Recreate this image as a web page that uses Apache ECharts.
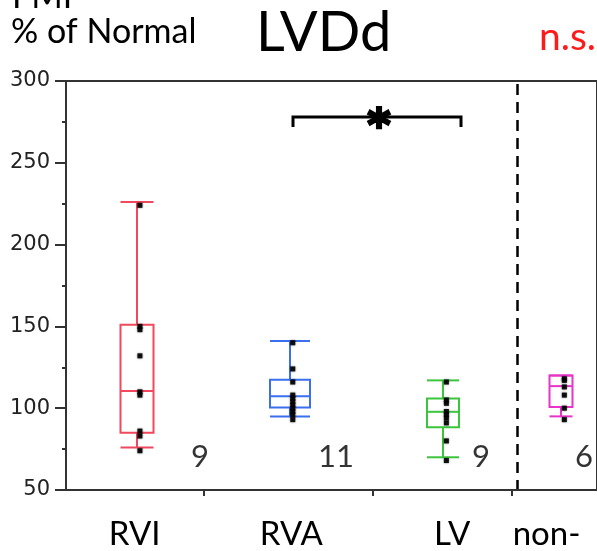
<!DOCTYPE html>
<html>
<head>
<meta charset="utf-8">
<script src="https://cdn.jsdelivr.net/npm/echarts@6/dist/echarts.min.js"></script>
<style>
html,body{margin:0;padding:0;background:#fff;}
#chart{width:597px;height:551px;}
</style>
</head>
<body>
<div id="chart"></div>
<script>
// ---- data ----
const categories = ['RVI', 'RVA', 'LV', 'non-'];
const counts = [9, 11, 9, 6];
// box statistics: [min, Q1, median, Q3, max]
const rviBox = [76, 85, 110.5, 151, 226];
const rvaBox = [95, 100.4, 107.3, 117.4, 141];
const lvBox = [70, 88.3, 97.8, 106, 117];
const nonBox = [95, 100.8, 113.5, 120, 120];
// individual points
const rviPoints = [224, 150, 148, 132, 110, 108, 86, 83, 74];
const rvaPoints = [140, 124, 116, 108, 106, 104, 102, 100, 98, 96, 93];
const lvPoints = [116, 105, 103, 98, 96, 94, 91, 80, 68];
const nonPoints = [118, 117, 113, 108, 100, 93];
const yTickLabels = [50, 100, 150, 200, 250, 300];

// ---- layout / style ----
const groupX = [1.87, 5.9, 9.95, 13.06];
const labelX = [1.81, 5.94, 10.18, 12.67];
const countX = [3.53, 7.12, 10.94, 13.66];
const tickX = [3.64, 8.09, 11.75];
const countY = 70;
const boxWidths = [33, 40, 32, 23];
const colors = ['#f0485c', '#3a6ff0', '#3cc43c', '#e835c8'];
const FONT = 'Lato';

const boxes = [rviBox, rvaBox, lvBox, nonBox];
const pointSets = [rviPoints, rvaPoints, lvPoints, nonPoints];

const boxData = boxes.map((b, i) => [groupX[i]].concat(b));
const dotData = [];
pointSets.forEach((pts, i) => pts.forEach(v => dotData.push([groupX[i], v])));
const countData = counts.map((c, i) => ({ value: [countX[i], countY], n: c }));

const chart = echarts.init(document.getElementById('chart'), null, { renderer: 'canvas' });

const option = {
  backgroundColor: '#fff',
  animation: false,
  grid: {
    left: 66, top: 81, width: 534.8, height: 412,
    show: true, borderColor: '#333', borderWidth: 2, backgroundColor: 'transparent'
  },
  xAxis: {
    type: 'value', min: 0, max: 14,
    splitLine: { show: false },
    axisLine: { show: true, lineStyle: { color: '#333', width: 2 } },
    axisTick: { show: true, customValues: tickX, length: 6, lineStyle: { color: '#333', width: 2 } },
    axisLabel: {
      show: true, customValues: labelX, margin: 28,
      fontFamily: FONT, fontSize: 33, color: '#000',
      formatter: function (v) {
        let best = 0;
        labelX.forEach((lx, i) => { if (Math.abs(lx - v) < Math.abs(labelX[best] - v)) best = i; });
        return categories[best];
      }
    }
  },
  yAxis: {
    type: 'value', min: 50, max: 300, interval: 50,
    splitLine: { show: false },
    axisLine: { show: true, lineStyle: { color: '#333', width: 2 } },
    axisTick: { show: true, length: 11, lineStyle: { color: '#333', width: 2 } },
    minorTick: { show: true, splitNumber: 2, length: 4, lineStyle: { color: '#333', width: 2 } },
    axisLabel: {
      margin: 16, fontFamily: 'DejaVu Sans', fontSize: 21, color: '#222',
      formatter: v => yTickLabels.indexOf(v) >= 0 ? String(v) : ''
    }
  },
  series: [
    {
      type: 'custom',
      data: boxData,
      z: 3,
      renderItem: function (params, api) {
        const i = params.dataIndex;
        const x = api.value(0);
        const mn = api.coord([x, api.value(1)]);
        const q1 = api.coord([x, api.value(2)]);
        const md = api.coord([x, api.value(3)]);
        const q3 = api.coord([x, api.value(4)]);
        const mx = api.coord([x, api.value(5)]);
        const cx = Math.round(mn[0]);
        const hw = boxWidths[i] / 2;
        const st = { stroke: colors[i], lineWidth: 2, fill: null };
        return {
          type: 'group',
          children: [
            { type: 'line', shape: { x1: cx, y1: mx[1], x2: cx, y2: q3[1] }, style: st },
            { type: 'line', shape: { x1: cx, y1: q1[1], x2: cx, y2: mn[1] }, style: st },
            { type: 'line', shape: { x1: cx - hw, y1: mx[1], x2: cx + hw, y2: mx[1] }, style: st },
            { type: 'line', shape: { x1: cx - hw, y1: mn[1], x2: cx + hw, y2: mn[1] }, style: st },
            { type: 'rect', shape: { x: cx - hw, y: q3[1], width: 2 * hw, height: q1[1] - q3[1] }, style: st },
            { type: 'line', shape: { x1: cx - hw, y1: md[1], x2: cx + hw, y2: md[1] }, style: st }
          ]
        };
      }
    },
    {
      type: 'scatter',
      data: dotData,
      symbol: 'rect',
      symbolSize: 5,
      symbolOffset: [3, 0],
      z: 4,
      itemStyle: { color: '#000', opacity: 0.9, shadowBlur: 2, shadowColor: 'rgba(0,0,0,0.6)' }
    },
    {
      type: 'scatter',
      data: countData,
      symbolSize: 1,
      itemStyle: { color: 'transparent' },
      label: {
        show: true, position: 'inside',
        formatter: p => String(p.data.n),
        fontFamily: FONT, fontSize: 31, color: '#000'
      }
    }
  ],
  graphic: [
    { type: 'text', left: 12, top: -20, style: { text: 'FMI', font: '34px Lato', fill: '#000' } },
    { type: 'text', left: 11, top: 15, style: { text: '% of Normal', font: '34px Lato', fill: '#000' } },
    { type: 'text', left: 256, top: 5, style: { text: 'LVDd', font: '56px Lato', fill: '#000' } },
    { type: 'text', left: 539, top: 18, style: { text: 'n.s.', font: '39px Lato', fill: '#ff1a1a' } },
    // significance bracket
    { type: 'polyline', shape: { points: [[293, 127], [293, 117], [461, 117], [461, 127]] },
      style: { stroke: '#000', lineWidth: 3, fill: null } },
    { type: 'text', x: 379, y: 129, style: { text: '*', font: 'bold 44px "DejaVu Sans"', fill: '#000', stroke: '#000', lineWidth: 2.5, align: 'center', verticalAlign: 'middle' } },
    // divider
    { type: 'line', shape: { x1: 517.5, y1: 84, x2: 517.5, y2: 491 },
      style: { stroke: '#000', lineWidth: 2.5, lineDash: [11, 7] } }
  ]
};
chart.setOption(option);
</script>
</body>
</html>
